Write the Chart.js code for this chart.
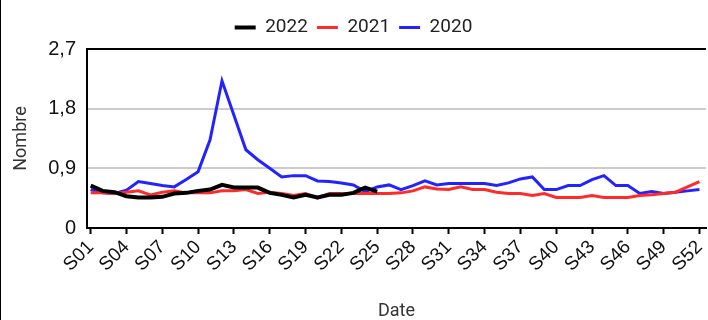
<!DOCTYPE html>
<html>
<head>
<meta charset="utf-8">
<script src="https://cdn.jsdelivr.net/npm/chart.js@4/dist/chart.umd.min.js"></script>
<style>
  html, body { margin: 0; padding: 0; background: #fff; }
  #wrap { width: 707px; height: 320px; border-left: 1px solid #000; }
</style>
</head>
<body>
<div id="wrap"><canvas id="chart" width="707" height="320"></canvas></div>
<script>
// ==================== 데이터 ====================
const weeks = ['S01','S02','S03','S04','S05','S06','S07','S08','S09','S10','S11','S12','S13',
  'S14','S15','S16','S17','S18','S19','S20','S21','S22','S23','S24','S25','S26',
  'S27','S28','S29','S30','S31','S32','S33','S34','S35','S36','S37','S38','S39',
  'S40','S41','S42','S43','S44','S45','S46','S47','S48','S49','S50','S51','S52'];
const xTickIdx = [0, 3, 6, 9, 12, 15, 18, 21, 24, 27, 30, 33, 36, 39, 42, 45, 48, 51];
const yTicks = [0, 0.9, 1.8, 2.7];

const values2022 = [0.64, 0.56, 0.54, 0.48, 0.46, 0.46, 0.47, 0.52, 0.53, 0.56, 0.58, 0.65, 0.61,
  0.61, 0.61, 0.53, 0.50, 0.46, 0.50, 0.46, 0.50, 0.50, 0.53, 0.61, 0.55];
const values2021 = [0.53, 0.53, 0.52, 0.54, 0.56, 0.50, 0.54, 0.56, 0.53, 0.53, 0.53, 0.56, 0.56,
  0.58, 0.52, 0.54, 0.52, 0.49, 0.52, 0.45, 0.52, 0.52, 0.52, 0.52, 0.52, 0.52,
  0.53, 0.56, 0.62, 0.59, 0.58, 0.62, 0.58, 0.58, 0.54, 0.52, 0.52, 0.49, 0.52,
  0.46, 0.46, 0.46, 0.49, 0.46, 0.46, 0.46, 0.49, 0.50, 0.52, 0.54, 0.62, 0.70];
const values2020 = [0.58, 0.53, 0.52, 0.57, 0.70, 0.67, 0.64, 0.62, 0.73, 0.85, 1.33, 2.22, 1.70,
  1.18, 1.03, 0.90, 0.77, 0.79, 0.79, 0.71, 0.70, 0.68, 0.65, 0.55, 0.62, 0.65,
  0.58, 0.64, 0.71, 0.65, 0.67, 0.67, 0.67, 0.67, 0.64, 0.68, 0.74, 0.77, 0.58,
  0.58, 0.64, 0.64, 0.73, 0.79, 0.64, 0.64, 0.52, 0.55, 0.52, 0.54, 0.56, 0.58];

const toPoints = arr => arr.map((v, i) => ({ x: i, y: v }));
const FONT = 'Roboto, "Liberation Sans", Arial, sans-serif';
const TICK_FONT = '"Liberation Sans", Arial, sans-serif';

// legend 높이 고정 (차트 영역 top 맞추기)
const legendHeightPlugin = {
  id: 'legendHeight',
  beforeInit(chart) {
    const origFit = chart.legend.fit;
    chart.legend.fit = function () { origFit.call(this); this.height = 40; };
  }
};

new Chart(document.getElementById('chart'), {
  type: 'line',
  data: {
    datasets: [
      { label: '2022', data: toPoints(values2022), borderColor: '#000000', backgroundColor: '#000000', borderWidth: 4 },
      { label: '2021', data: toPoints(values2021), borderColor: '#ff2b2b', backgroundColor: '#ff2b2b', borderWidth: 3 },
      { label: '2020', data: toPoints(values2020), borderColor: '#2323ff', backgroundColor: '#2323ff', borderWidth: 3 }
    ]
  },
  options: {
    responsive: false, animation: false, devicePixelRatio: 1,
    layout: { padding: { top: 9, right: 2, bottom: 0, left: 0 } },
    elements: { point: { radius: 0 }, line: { tension: 0 } },
    plugins: {
      legend: {
        position: 'top',
        labels: { color: '#222', font: { family: FONT, size: 19 }, usePointStyle: true, pointStyle: 'line', pointStyleWidth: 21, boxHeight: 12, padding: 9 }
      },
      tooltip: { enabled: false }
    },
    scales: {
      x: {
        type: 'linear', min: -0.31, max: 51.55,
        afterBuildTicks: s => { s.ticks = xTickIdx.map(v => ({ value: v })); },
        afterFit: s => { s.height = 92; s.paddingLeft = 0; s.paddingRight = 0; },
        ticks: { autoSkip: false, minRotation: 45, maxRotation: 45, padding: 2, color: '#111', font: { family: TICK_FONT, size: 19 }, callback: v => weeks[v] },
        grid: { drawOnChartArea: false, drawTicks: true, tickLength: 6, tickWidth: 2, tickColor: '#000' },
        border: { display: true, color: '#000', width: 2 },
        title: { display: true, text: 'Date', color: '#333', font: { family: FONT, size: 18 }, padding: { top: 0, bottom: -2 } }
      },
      y: {
        min: 0, max: 2.7,
        afterBuildTicks: s => { s.ticks = yTicks.map(v => ({ value: v })); },
        afterFit: s => { s.width = 86; s.paddingTop = 0; s.paddingBottom = 0; },
        ticks: { padding: 11, color: '#111', font: { family: TICK_FONT, size: 20 }, callback: v => v === 0 ? '0' : v.toFixed(1).replace('.', ',') },
        grid: { drawTicks: false, lineWidth: 2, color: c => (c.tick && (c.tick.value === 0 || c.tick.value > 2.6)) ? '#000' : '#cccccc' },
        border: { display: true, color: '#000', width: 2 },
        title: { display: true, text: 'Nombre', color: '#333', font: { family: FONT, size: 18 }, padding: { top: 10, bottom: 0 } }
      }
    }
  },
  plugins: [legendHeightPlugin]
});
</script>
</body>
</html>
